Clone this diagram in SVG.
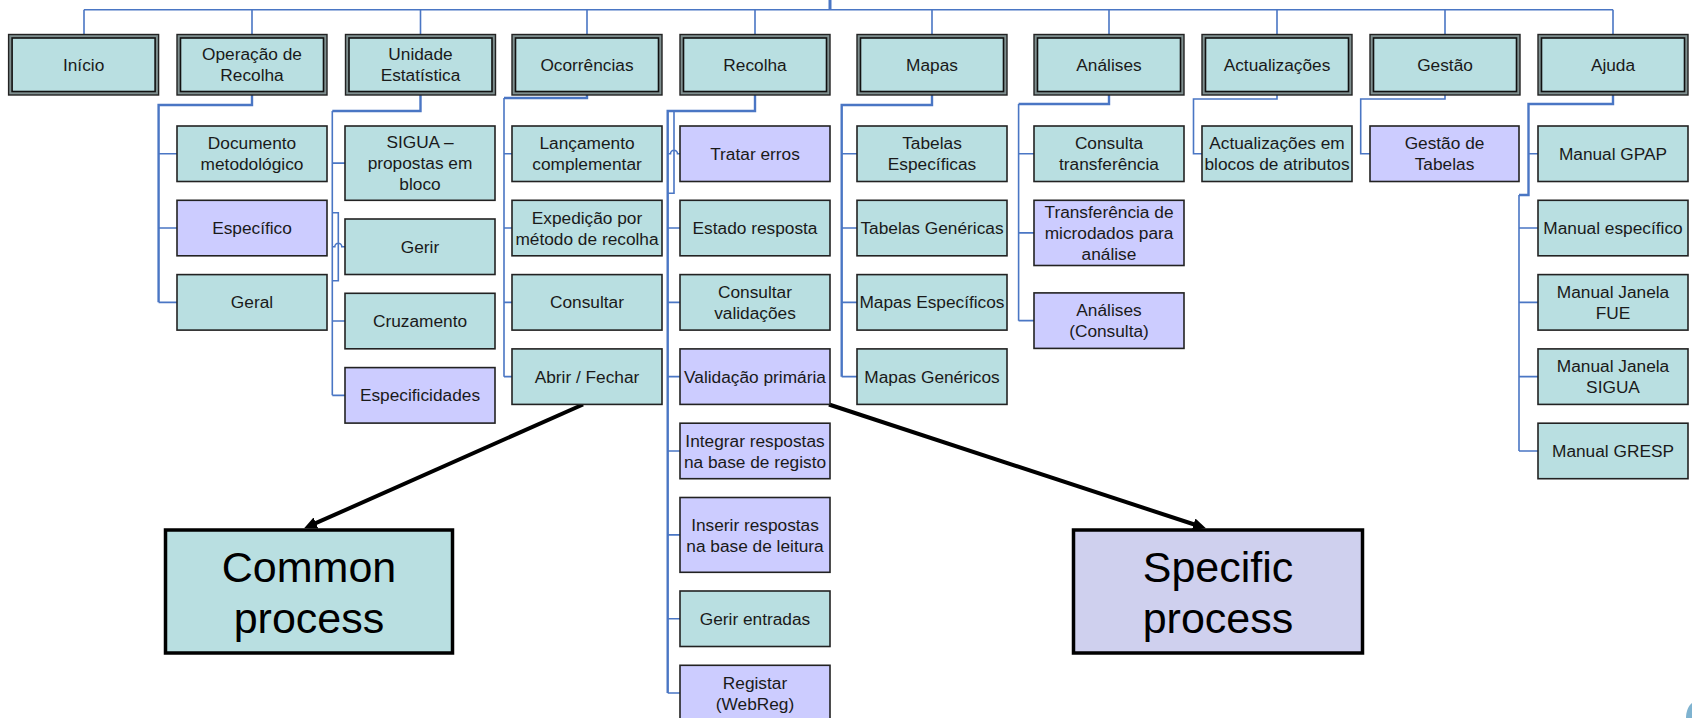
<svg xmlns="http://www.w3.org/2000/svg" width="1692" height="718" viewBox="0 0 1692 718">
<style>
text{font-family:"Liberation Sans",Arial,sans-serif;font-size:17.3px;fill:#1a1a1a;text-anchor:middle}
.big{font-size:43px;fill:#000}
.frame{fill:#7f8f8f;stroke:#222;stroke-width:1.4}
.inner{fill:#b9dfe1;stroke:#111;stroke-width:1.6}
.teal{fill:#b9dfe1;stroke:#222;stroke-width:1.6}
.purp{fill:#ccccff;stroke:#222;stroke-width:1.6}
.c{fill:none;stroke:#4a76c4;stroke-width:1.6}
.ck{fill:none;stroke:#4a76c4;stroke-width:2.4}
.arr{fill:none;stroke:#000;stroke-width:4}
</style>
<defs>
<marker id="ah" markerUnits="userSpaceOnUse" markerWidth="14" markerHeight="14" refX="4" refY="6" orient="auto">
<path d="M0,0 L13,6 L0,12 z" fill="#000"/>
</marker>
</defs>

<g id="connectors">
<path class="c" d="M84,9.7 H1613"/>
<path class="c" style="stroke-width:3" d="M830,0 V9.7"/>
<path class="c" d="M84,9.7V34.5 M252,9.7V34.5 M420.5,9.7V34.5 M587,9.7V34.5 M755,9.7V34.5 M932,9.7V34.5 M1109,9.7V34.5 M1277,9.7V34.5 M1445,9.7V34.5 M1613,9.7V34.5"/>
<path class="ck" d="M252,95 V105 H158.6 V302.35"/>
<path class="c" d="M158.6,153.75H177 M158.6,228.05H177 M158.6,302.35H177"/>
<path class="ck" d="M420.5,95 V111 H332.3"/>
<path class="c" d="M332.3,111 V395.35 M332.3,163.15H345 M332.3,246.75 H334.8 A3.5,3.5 0 0 1 341.8,246.75 H345 M332.3,321.05H345 M332.3,395.35H345 M332.3,212.7 H338.3 V280.7 H332.3"/>
<path class="ck" d="M587,95 V98 H504"/>
<path class="c" d="M504,98 V376.65 M504,153.75H512 M504,228.05H512 M504,302.35H512 M504,376.65H512"/>
<path class="ck" d="M755,95 V111 H667.7 V693.05"/>
<path class="c" d="M674,111 V193.3 H667.7 M667.7,153.75 H670.5 A3.5,3.5 0 0 1 677.5,153.75 H680 M667.7,228.05H680 M667.7,302.35H680 M667.7,376.65H680 M667.7,450.95H680 M667.7,534.9H680 M667.7,618.75H680 M667.7,693.05H680"/>
<path class="ck" d="M932,95 V105 H841.7 V376.65"/>
<path class="c" d="M841.7,153.75H857 M841.7,228.05H857 M841.7,302.35H857 M841.7,376.65H857"/>
<path class="ck" d="M1109,95 V104 H1018.6"/>
<path class="c" d="M1018.6,104 V320.65 M1018.6,153.75H1034 M1018.6,232.9H1034 M1018.6,320.65H1034"/>
<path class="c" d="M1277,95 V99 H1193.5 V153.75 H1202"/>
<path class="c" d="M1445,95 V99 H1360.7 V153.75 H1370"/>
<path class="ck" d="M1613,95 V104 H1528.5 V195 H1519"/>
<path class="c" d="M1519,195 V450.95 M1528.5,153.75H1538 M1519,228.05H1538 M1519,302.35H1538 M1519,376.65H1538 M1519,450.95H1538"/>
<line class="arr" x1="583" y1="404.5" x2="312.3" y2="524.7" marker-end="url(#ah)"/>
<line class="arr" x1="829" y1="404.5" x2="1197.4" y2="525.5" marker-end="url(#ah)"/>
</g>

<g id="inicio"><rect class="frame" x="8.6" y="34.5" width="150" height="60.5"/><rect class="inner" x="12.1" y="38" width="143" height="53.5"/><text x="83.6" y="71">Início</text></g>
<g id="operacao"><rect class="frame" x="177" y="34.5" width="150" height="60.5"/><rect class="inner" x="180.5" y="38" width="143" height="53.5"/><text x="252" y="60.3">Operação de</text><text x="252" y="81.3">Recolha</text></g>
<g id="unidade"><rect class="frame" x="345.5" y="34.5" width="150" height="60.5"/><rect class="inner" x="349" y="38" width="143" height="53.5"/><text x="420.5" y="60.3">Unidade</text><text x="420.5" y="81.3">Estatística</text></g>
<g id="ocorrencias"><rect class="frame" x="512" y="34.5" width="150" height="60.5"/><rect class="inner" x="515.5" y="38" width="143" height="53.5"/><text x="587" y="71">Ocorrências</text></g>
<g id="recolha"><rect class="frame" x="680" y="34.5" width="150" height="60.5"/><rect class="inner" x="683.5" y="38" width="143" height="53.5"/><text x="755" y="71">Recolha</text></g>
<g id="mapas"><rect class="frame" x="857" y="34.5" width="150" height="60.5"/><rect class="inner" x="860.5" y="38" width="143" height="53.5"/><text x="932" y="71">Mapas</text></g>
<g id="analises"><rect class="frame" x="1034" y="34.5" width="150" height="60.5"/><rect class="inner" x="1037.5" y="38" width="143" height="53.5"/><text x="1109" y="71">Análises</text></g>
<g id="actualizacoes"><rect class="frame" x="1202" y="34.5" width="150" height="60.5"/><rect class="inner" x="1205.5" y="38" width="143" height="53.5"/><text x="1277" y="71">Actualizações</text></g>
<g id="gestao"><rect class="frame" x="1370" y="34.5" width="150" height="60.5"/><rect class="inner" x="1373.5" y="38" width="143" height="53.5"/><text x="1445" y="71">Gestão</text></g>
<g id="ajuda"><rect class="frame" x="1538" y="34.5" width="150" height="60.5"/><rect class="inner" x="1541.5" y="38" width="143" height="53.5"/><text x="1613" y="71">Ajuda</text></g>

<g id="doc-metodologico"><rect class="teal" x="177" y="126" width="150" height="55.5"/><text x="252" y="149.35">Documento</text><text x="252" y="170.35">metodológico</text></g>
<g id="especifico"><rect class="purp" x="177" y="200.3" width="150" height="55.5"/><text x="252" y="234.15">Específico</text></g>
<g id="geral"><rect class="teal" x="177" y="274.6" width="150" height="55.5"/><text x="252" y="308.45">Geral</text></g>

<g id="sigua"><rect class="teal" x="345" y="126" width="150" height="74.3"/><text x="420" y="148.25">SIGUA –</text><text x="420" y="169.25">propostas em</text><text x="420" y="190.25">bloco</text></g>
<g id="gerir"><rect class="teal" x="345" y="219" width="150" height="55.5"/><text x="420" y="252.85">Gerir</text></g>
<g id="cruzamento"><rect class="teal" x="345" y="293.3" width="150" height="55.5"/><text x="420" y="327.15">Cruzamento</text></g>
<g id="especificidades"><rect class="purp" x="345" y="367.6" width="150" height="55.5"/><text x="420" y="401.45">Especificidades</text></g>

<g id="lancamento"><rect class="teal" x="512" y="126" width="150" height="55.5"/><text x="587" y="149.35">Lançamento</text><text x="587" y="170.35">complementar</text></g>
<g id="expedicao"><rect class="teal" x="512" y="200.3" width="150" height="55.5"/><text x="587" y="223.65">Expedição por</text><text x="587" y="244.65">método de recolha</text></g>
<g id="consultar"><rect class="teal" x="512" y="274.6" width="150" height="55.5"/><text x="587" y="308.45">Consultar</text></g>
<g id="abrir-fechar"><rect class="teal" x="512" y="348.9" width="150" height="55.5"/><text x="587" y="382.75">Abrir / Fechar</text></g>

<g id="tratar-erros"><rect class="purp" x="680" y="126" width="150" height="55.5"/><text x="755" y="159.85">Tratar erros</text></g>
<g id="estado-resposta"><rect class="teal" x="680" y="200.3" width="150" height="55.5"/><text x="755" y="234.15">Estado resposta</text></g>
<g id="consultar-validacoes"><rect class="teal" x="680" y="274.6" width="150" height="55.5"/><text x="755" y="297.95">Consultar</text><text x="755" y="318.95">validações</text></g>
<g id="validacao-primaria"><rect class="purp" x="680" y="348.9" width="150" height="55.5"/><text x="755" y="382.75">Validação primária</text></g>
<g id="integrar"><rect class="purp" x="680" y="423.2" width="150" height="55.5"/><text x="755" y="446.55">Integrar respostas</text><text x="755" y="467.55">na base de registo</text></g>
<g id="inserir"><rect class="purp" x="680" y="497.5" width="150" height="74.8"/><text x="755" y="530.5">Inserir respostas</text><text x="755" y="551.5">na base de leitura</text></g>
<g id="gerir-entradas"><rect class="teal" x="680" y="591" width="150" height="55.5"/><text x="755" y="624.85">Gerir entradas</text></g>
<g id="registar"><rect class="purp" x="680" y="665.3" width="150" height="55.5"/><text x="755" y="688.65">Registar</text><text x="755" y="709.65">(WebReg)</text></g>

<g id="tabelas-especificas"><rect class="teal" x="857" y="126" width="150" height="55.5"/><text x="932" y="149.35">Tabelas</text><text x="932" y="170.35">Específicas</text></g>
<g id="tabelas-genericas"><rect class="teal" x="857" y="200.3" width="150" height="55.5"/><text x="932" y="234.15">Tabelas Genéricas</text></g>
<g id="mapas-especificos"><rect class="teal" x="857" y="274.6" width="150" height="55.5"/><text x="932" y="308.45">Mapas Específicos</text></g>
<g id="mapas-genericos"><rect class="teal" x="857" y="348.9" width="150" height="55.5"/><text x="932" y="382.75">Mapas Genéricos</text></g>

<g id="consulta-transferencia"><rect class="teal" x="1034" y="126" width="150" height="55.5"/><text x="1109" y="149.35">Consulta</text><text x="1109" y="170.35">transferência</text></g>
<g id="transferencia-microdados"><rect class="purp" x="1034" y="200.3" width="150" height="65.2"/><text x="1109" y="218">Transferência de</text><text x="1109" y="239">microdados para</text><text x="1109" y="260">análise</text></g>
<g id="analises-consulta"><rect class="purp" x="1034" y="292.9" width="150" height="55.5"/><text x="1109" y="316.25">Análises</text><text x="1109" y="337.25">(Consulta)</text></g>

<g id="actualizacoes-blocos"><rect class="teal" x="1202" y="126" width="150" height="55.5"/><text x="1277" y="149.35">Actualizações em</text><text x="1277" y="170.35">blocos de atributos</text></g>

<g id="gestao-tabelas"><rect class="purp" x="1370" y="126" width="149" height="55.5"/><text x="1444.5" y="149.35">Gestão de</text><text x="1444.5" y="170.35">Tabelas</text></g>

<g id="manual-gpap"><rect class="teal" x="1538" y="126" width="150" height="55.5"/><text x="1613" y="159.85">Manual GPAP</text></g>
<g id="manual-especifico"><rect class="teal" x="1538" y="200.3" width="150" height="55.5"/><text x="1613" y="234.15">Manual específico</text></g>
<g id="manual-fue"><rect class="teal" x="1538" y="274.6" width="150" height="55.5"/><text x="1613" y="297.95">Manual Janela</text><text x="1613" y="318.95">FUE</text></g>
<g id="manual-sigua"><rect class="teal" x="1538" y="348.9" width="150" height="55.5"/><text x="1613" y="372.25">Manual Janela</text><text x="1613" y="393.25">SIGUA</text></g>
<g id="manual-gresp"><rect class="teal" x="1538" y="423.2" width="150" height="55.5"/><text x="1613" y="457.05">Manual GRESP</text></g>

<g id="common-process"><rect x="165.5" y="530" width="287" height="123" fill="#b9dfe1" stroke="#000" stroke-width="3.5"/><text class="big" x="309" y="582">Common</text><text class="big" x="309" y="632.5">process</text></g>
<g id="specific-process"><rect x="1073.5" y="530" width="289" height="123" fill="#cfd0ee" stroke="#000" stroke-width="3.5"/><text class="big" x="1218" y="582">Specific</text><text class="big" x="1218" y="632.5">process</text></g>

<path d="M1692,703 C1688,706 1686,712 1686,718 L1692,718 Z" fill="#7fb3d0"/>
</svg>
